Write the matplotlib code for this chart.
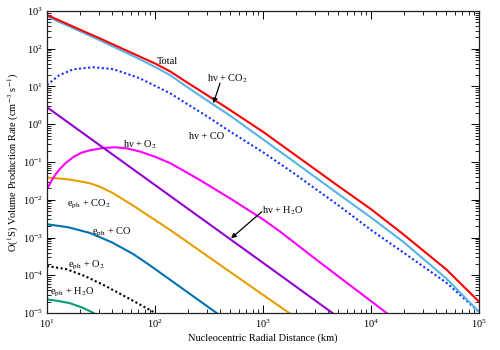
import numpy as np
import matplotlib
matplotlib.use("Agg")
import matplotlib.pyplot as plt

plt.rcParams['font.family'] = ['Liberation Serif', 'DejaVu Serif']
plt.rcParams['mathtext.fontset'] = 'stix'
plt.rcParams['font.size'] = 7.5

# ---- data (log10 of production rate) ----
total_x = [10, 15, 20, 30, 50, 70, 100, 138, 200, 300, 500, 1000, 2000, 5000, 1e4, 2e4, 5e4, 1e5]
total_log = [2.894, 2.67, 2.51, 2.29, 2.00, 1.81, 1.61, 1.40, 1.10, 0.78, 0.37, -0.20, -0.82, -1.64, -2.25, -2.92,
             -3.85, -4.70]

co2_x = [10, 15, 20, 30, 50, 70, 100, 138, 200, 300, 500, 1000, 2000, 5000, 1e4, 2e4, 5e4, 1e5]
co2_log = [2.86, 2.63, 2.47, 2.24, 1.94, 1.74, 1.52, 1.30, 0.98, 0.64, 0.22, -0.40, -1.02, -1.85, -2.47, -3.12,
           -4.09, -4.97]

co_x = [10, 13, 17.5, 27, 41, 72, 138, 200, 300, 500, 1000, 2000, 5000, 1e4, 2e4, 5e4, 1e5]
co_log = [1.04, 1.30, 1.456, 1.51, 1.46, 1.22, 0.82, 0.53, 0.22, -0.20, -0.74, -1.33, -2.15, -2.80, -3.40, -4.20, -4.97]

h2o_x = [10, 100, 1000, 4400]
h2o_log = [0.45, -1.61, -3.67, -5.0]

o2_x = [10, 11, 12, 13.2, 15, 17.5, 21, 25, 33, 42.7, 55, 72, 100, 138, 200, 261, 500, 1000, 1435, 3162, 13960]
o2_log = [-1.72, -1.50, -1.33, -1.18, -1.02, -0.87, -0.75, -0.69, -0.63, -0.61, -0.64, -0.72, -0.86, -1.03,
          -1.29, -1.48, -1.97, -2.52, -2.84, -3.60, -5.0]

eco2_x = [10, 15.8, 20, 25, 30, 40, 60, 90, 138, 316, 1000, 1750]
eco2_log = [-1.41, -1.46, -1.51, -1.565, -1.64, -1.81, -2.12, -2.45, -2.80, -3.52, -4.52, -5.0]

eco_x = [10, 15.8, 25, 40, 63, 90, 158, 372]
eco_log = [-2.65, -2.73, -2.88, -3.13, -3.44, -3.74, -4.24, -5.0]

eo2_x = [10, 15.2, 22.4, 35.7, 63, 96.4]
eo2_log = [-3.755, -3.84, -4.02, -4.30, -4.68, -4.97]

eh2o_x = [10, 12.6, 16.3, 21.4, 27]
eh2o_log = [-4.64, -4.68, -4.74, -4.86, -5.0]

series = [
    (eh2o_x, eh2o_log, '#009E73', '-'),
    (eo2_x, eo2_log, 'black', (0, (1, 1.2))),
    (eco_x, eco_log, '#0072B2', '-'),
    (eco2_x, eco2_log, '#E69F00', '-'),
    (o2_x, o2_log, '#FF00FF', '-'),
    (h2o_x, h2o_log, '#9400D3', '-'),
    (co_x, co_log, '#1030FF', (0, (1, 1.2))),
    (co2_x, co2_log, '#56B4E9', '-'),
    (total_x, total_log, '#FF0000', '-'),
]

fig = plt.figure(figsize=(5, 3.5), dpi=100)
ax = fig.add_axes([0.094, 0.1057, 0.864, 0.8629])

for xs, ly, c, ls in series:
    ax.plot(xs, 10 ** np.array(ly), color=c, lw=1.5, ls=ls)

ax.set_xscale('log')
ax.set_yscale('log')
ax.set_xlim(10, 1e5)
ax.set_ylim(1e-5, 1e3)
ax.yaxis.set_major_locator(matplotlib.ticker.LogLocator(base=10, numticks=20))
ax.yaxis.set_minor_locator(matplotlib.ticker.LogLocator(base=10, subs=np.arange(2, 10), numticks=20))
ax.xaxis.set_minor_formatter(matplotlib.ticker.NullFormatter())
ax.yaxis.set_minor_formatter(matplotlib.ticker.NullFormatter())

ax.tick_params(which='both', direction='in', top=True, right=True, colors='black', labelsize=7.5)
ax.tick_params(which='major', length=5.5, width=0.7, pad=3)
ax.tick_params(which='minor', length=2.8, width=0.6)
for s in ax.spines.values():
    s.set_linewidth(0.9)
    s.set_color('#222222')

ax.set_xlabel('Nucleocentric Radial Distance (km)', labelpad=3)
ax.set_ylabel(r'O($^1$S) Volume Production Rate (cm$^{-3}$ s$^{-1}$)', labelpad=1)

kw = dict(fontsize=7.5, ha='center', va='center')
ax.text(129, 47, 'Total', **kw)
ax.text(474, 15.8, r'hν + CO$_2$', **kw)
ax.text(303, 0.46, r'hν + CO', **kw)
ax.text(72.6, 0.28, r'hν + O$_2$', **kw)
ax.text(985, 5.0e-3, r'hν + H$_2$O', fontsize=7.5, ha='left', va='center')
ax.text(24.5, 7.7e-3, r'e$_{\rm ph}$ + CO$_2$', **kw)
ax.text(40, 1.4e-3, r'e$_{\rm ph}$ + CO', **kw)
ax.text(23, 1.87e-4, r'e$_{\rm ph}$ + O$_2$', **kw)
ax.text(17, 3.6e-5, r'e$_{\rm ph}$ + H$_2$O', **kw)

arrow = dict(arrowstyle='-|>', color='black', lw=0.9, mutation_scale=7, shrinkA=0, shrinkB=0)
ax.annotate('', xy=(347, 3.59), xytext=(400, 12.2), arrowprops=arrow)
ax.annotate('', xy=(506, 9.5e-4), xytext=(973, 4.8e-3), arrowprops=arrow)

fig.savefig('out.png', dpi=100)
